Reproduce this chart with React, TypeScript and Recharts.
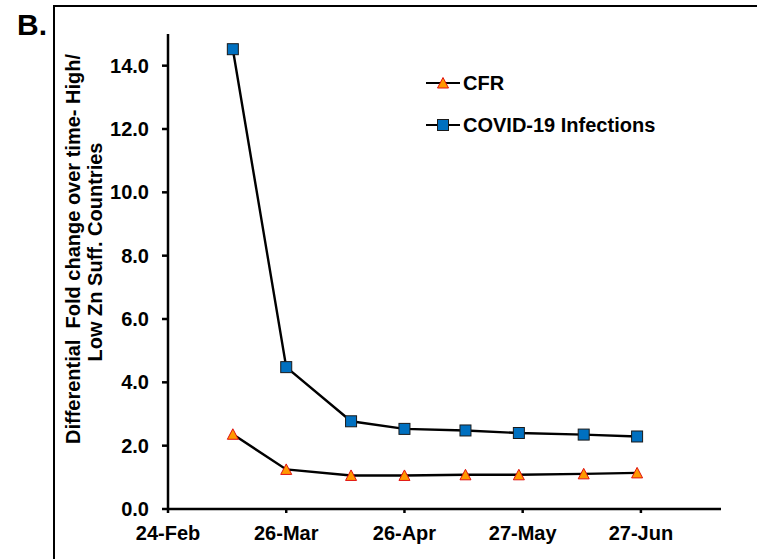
import React from 'react';
import { LineChart, Line, XAxis, YAxis, Legend } from 'recharts';

// days since 24-Feb (2020)
const dateLabels = ['12-Mar', '26-Mar', '12-Apr', '26-Apr', '12-May', '26-May', '12-Jun', '26-Jun'];
const dayOffsets = [17, 31, 48, 62, 78, 92, 109, 123];
const cfrValues = [2.36, 1.25, 1.06, 1.06, 1.08, 1.08, 1.11, 1.14];
const infectionValues = [14.52, 4.48, 2.77, 2.53, 2.48, 2.4, 2.35, 2.29];

const xTicks = [0, 31, 62, 93, 124];
const xTickLabels = ['24-Feb', '26-Mar', '26-Apr', '27-May', '27-Jun'];
const yTicks = [0, 2, 4, 6, 8, 10, 12, 14];

const seriesNames = ['CFR', 'COVID-19 Infections'];
const titleLines = ['Differential  Fold change over time- High/', 'Low Zn Suff. Countries'];

const data = dayOffsets.map((d, i) => ({
  day: d,
  date: dateLabels[i],
  cfr: cfrValues[i],
  infections: infectionValues[i],
}));

const FONT = '"Liberation Sans", Arial, sans-serif';
const SQ_FILL = '#0070C0';
const TRI_FILL = '#FF9900';
const TRI_STROKE = '#E01010';

const Triangle = (props: any) => {
  const { cx, cy } = props;
  if (cx == null || cy == null) return null;
  const w = 5.5;
  return (
    <polygon
      points={`${cx},${cy - 5.5} ${cx + w},${cy + 5} ${cx - w},${cy + 5}`}
      fill={TRI_FILL}
      stroke={TRI_STROKE}
      strokeWidth={1}
    />
  );
};

const Square = (props: any) => {
  const { cx, cy } = props;
  if (cx == null || cy == null) return null;
  const s = 11;
  return <rect x={cx - s / 2} y={cy - s / 2} width={s} height={s} fill={SQ_FILL} stroke="#1a1a1a" strokeWidth={1} />;
};

const renderLegend = () => (
  <div style={{ fontFamily: FONT, fontWeight: 'bold', fontSize: 20, color: '#000' }}>
    {seriesNames.map((name, i) => (
      <div key={name} style={{ display: 'flex', alignItems: 'center', height: 42 }}>
        <svg width={36} height={14} style={{ display: 'block' }}>
          <line x1={0} y1={7} x2={34} y2={7} stroke="#000" strokeWidth={2.2} />
          {i === 0 ? (
            <polygon points="17,1.5 22.5,12 11.5,12" fill={TRI_FILL} stroke={TRI_STROKE} strokeWidth={1} />
          ) : (
            <rect x={11.5} y={1.5} width={11} height={11} fill={SQ_FILL} stroke="#1a1a1a" strokeWidth={1} />
          )}
        </svg>
        <span style={{ marginLeft: 1 }}>{name}</span>
      </div>
    ))}
  </div>
);

const renderTitle = () => (
  <g>
    <text
      x={73}
      y={249}
      transform="rotate(-90 73 249)"
      textAnchor="middle"
      dominantBaseline="central"
      fontFamily={FONT}
      fontWeight="bold"
      fontSize={20}
      fill="#000"
      style={{ whiteSpace: 'pre' }}
    >
      {titleLines[0]}
    </text>
    <text
      x={95}
      y={252}
      transform="rotate(-90 95 252)"
      textAnchor="middle"
      dominantBaseline="central"
      fontFamily={FONT}
      fontWeight="bold"
      fontSize={20}
      fill="#000"
    >
      {titleLines[1]}
    </text>
  </g>
);

const tickStyle = { fontFamily: FONT, fontWeight: 'bold' as const, fontSize: 20, fill: '#000' };

export default function App() {
  return (
    <div style={{ position: 'absolute', left: 0, top: 0, width: 757, height: 559, overflow: 'hidden', background: '#fff' }}>
      <div
        style={{
          position: 'absolute',
          left: 53,
          top: 5,
          width: 800,
          height: 600,
          borderLeft: '2.5px solid #000',
          borderTop: '2.5px solid #000',
        }}
      />
      <div
        style={{
          position: 'absolute',
          left: 17,
          top: 9,
          fontFamily: FONT,
          fontWeight: 'bold',
          fontSize: 30,
          lineHeight: '32px',
        }}
      >
        B.
      </div>
      <div style={{ position: 'absolute', left: 0, top: 0 }}>
        <LineChart width={757} height={559} data={data} margin={{ top: 34, right: 36, bottom: 0, left: 0 }}>
          <XAxis
            dataKey="day"
            type="number"
            domain={[0, 145]}
            ticks={xTicks}
            tickFormatter={(v: number) => xTickLabels[xTicks.indexOf(v)] ?? ''}
            height={50}
            axisLine={{ stroke: '#000', strokeWidth: 2.5 }}
            tickLine={{ stroke: '#000', strokeWidth: 2.5 }}
            tickSize={4}
            tickMargin={13}
            tick={tickStyle}
            allowDataOverflow
          />
          <YAxis
            type="number"
            domain={[0, 15]}
            ticks={yTicks}
            tickFormatter={(v: number) => v.toFixed(1)}
            width={168}
            axisLine={{ stroke: '#000', strokeWidth: 2.5 }}
            tickLine={{ stroke: '#000', strokeWidth: 2.5 }}
            tickSize={6}
            tickMargin={13}
            tick={tickStyle}
            label={{ content: renderTitle }}
          />
          <Legend
            layout="vertical"
            align="center"
            verticalAlign="middle"
            content={renderLegend}
            wrapperStyle={{ position: 'absolute', left: 426, top: 62, width: 320, height: 84 }}
          />
          <Line
            dataKey="cfr"
            name={seriesNames[0]}
            stroke="#000"
            strokeWidth={2.4}
            dot={<Triangle />}
            activeDot={false}
            isAnimationActive={false}
          />
          <Line
            dataKey="infections"
            name={seriesNames[1]}
            stroke="#000"
            strokeWidth={2.4}
            dot={<Square />}
            activeDot={false}
            isAnimationActive={false}
          />
        </LineChart>
      </div>
    </div>
  );
}
